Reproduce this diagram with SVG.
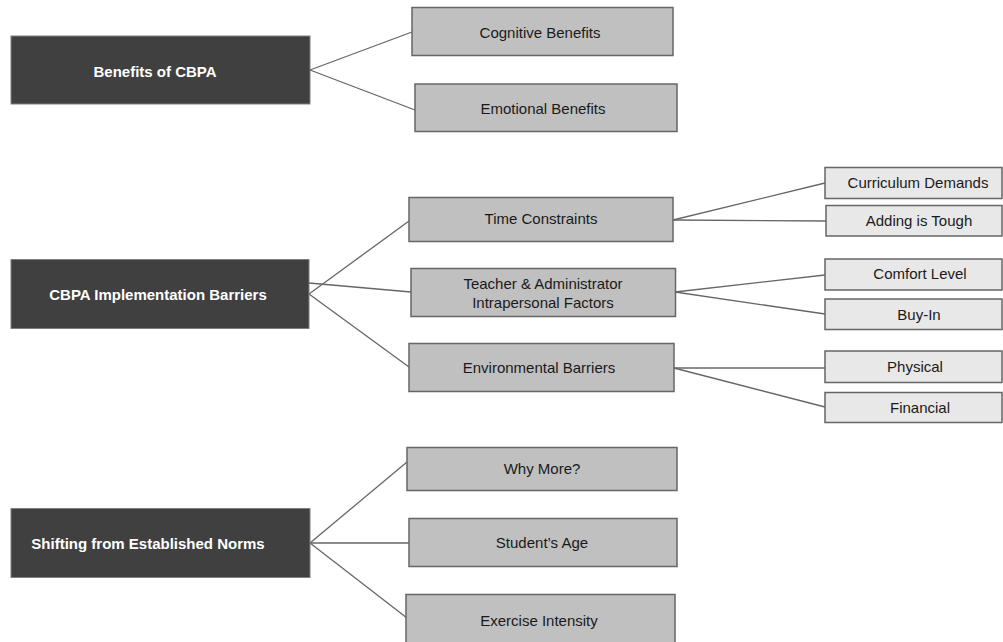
<svg xmlns="http://www.w3.org/2000/svg" width="1003" height="642" viewBox="0 0 1003 642">
<style>
text{font-family:"Liberation Sans",Arial,sans-serif;font-size:15px;text-anchor:middle;dominant-baseline:central}
.root rect{fill:#404040;stroke:#7f7f7f;stroke-width:1}
.root text{fill:#ffffff;font-weight:bold}
.mid rect{fill:#c0c0c0;stroke:#666666;stroke-width:1.5}
.leaf rect{fill:#e8e8e8;stroke:#666666;stroke-width:1.5}
.mid text,.leaf text{fill:#1a1a1a}
#connectors line{stroke:#666666;stroke-width:1.3}
</style>
<rect width="1003" height="642" fill="#ffffff"/>
<g id="connectors">
<line x1="310" y1="70" x2="412" y2="32"/>
<line x1="310" y1="70" x2="415" y2="110"/>
<line x1="309" y1="294" x2="409" y2="221"/>
<line x1="309" y1="283" x2="411" y2="292"/>
<line x1="309" y1="294" x2="409" y2="367"/>
<line x1="673" y1="220" x2="825" y2="183"/>
<line x1="673" y1="220" x2="826" y2="221"/>
<line x1="675" y1="292" x2="825" y2="275"/>
<line x1="675" y1="292" x2="825" y2="314"/>
<line x1="674" y1="368" x2="825" y2="368"/>
<line x1="674" y1="368" x2="825" y2="407"/>
<line x1="310" y1="543" x2="407" y2="462"/>
<line x1="310" y1="543" x2="409" y2="543"/>
<line x1="310" y1="543" x2="407" y2="618"/>
</g>
<g id="benefits" class="root"><rect x="11" y="36" width="299" height="68"/><text x="155" y="71">Benefits of CBPA</text></g>
<g id="cognitive" class="mid"><rect x="412" y="7.5" width="261" height="48"/><text x="540" y="32">Cognitive Benefits</text></g>
<g id="emotional" class="mid"><rect x="415" y="84" width="262" height="47.5"/><text x="543" y="108">Emotional Benefits</text></g>
<g id="barriers" class="root"><rect x="11" y="259.5" width="298" height="69"/><text x="158" y="294">CBPA Implementation Barriers</text></g>
<g id="time" class="mid"><rect x="409" y="197.5" width="264" height="44"/><text x="541" y="218.5">Time Constraints</text></g>
<g id="teacher" class="mid"><rect x="411" y="268.5" width="264.5" height="48"/><text x="543" y="283">Teacher &amp; Administrator</text><text x="543" y="302">Intrapersonal Factors</text></g>
<g id="environmental" class="mid"><rect x="409" y="343.5" width="265" height="48"/><text x="539" y="367">Environmental Barriers</text></g>
<g id="curriculum" class="leaf"><rect x="825" y="167.5" width="177" height="31"/><text x="918" y="182">Curriculum Demands</text></g>
<g id="adding" class="leaf"><rect x="826" y="205.5" width="176" height="30.5"/><text x="919" y="220.5">Adding is Tough</text></g>
<g id="comfort" class="leaf"><rect x="825" y="259" width="177" height="31"/><text x="920" y="273">Comfort Level</text></g>
<g id="buyin" class="leaf"><rect x="825" y="299" width="177" height="30.5"/><text x="919" y="314">Buy-In</text></g>
<g id="physical" class="leaf"><rect x="825" y="351" width="177" height="31.5"/><text x="915" y="366">Physical</text></g>
<g id="financial" class="leaf"><rect x="825" y="392.5" width="177" height="30"/><text x="920" y="407">Financial</text></g>
<g id="shifting" class="root"><rect x="11" y="508.5" width="299" height="69"/><text x="148" y="543">Shifting from Established Norms</text></g>
<g id="whymore" class="mid"><rect x="407" y="447.5" width="270" height="43"/><text x="542" y="468">Why More?</text></g>
<g id="age" class="mid"><rect x="409" y="518.5" width="268" height="48"/><text x="542" y="542">Student’s Age</text></g>
<g id="intensity" class="mid"><rect x="406" y="594.5" width="269" height="50"/><text x="539" y="620">Exercise Intensity</text></g>
</svg>
